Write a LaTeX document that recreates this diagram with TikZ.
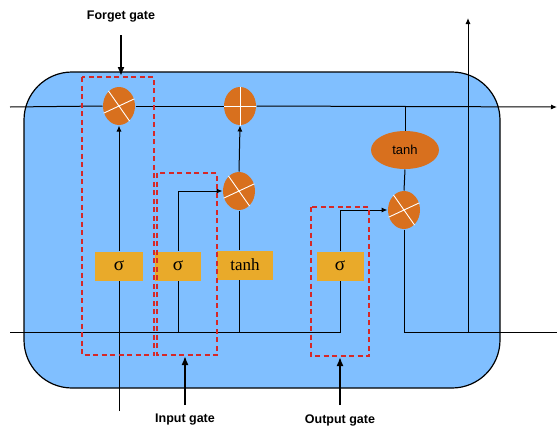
\documentclass[tikz,border=0pt]{standalone}
\usepackage{fontspec}
\setmainfont{Liberation Serif}
\newfontfamily\labelfont{Liberation Sans}
\usetikzlibrary{arrows,arrows.meta,shapes.geometric,positioning}
\definecolor{cellblue}{RGB}{128,191,255}
\definecolor{opOrange}{RGB}{216,112,30}
\definecolor{actYellow}{RGB}{233,170,42}
\definecolor{gateRed}{RGB}{214,40,40}
\newcommand{\opcross}[1]{\draw[white,line width=0.9pt] (#1.205) -- (#1.25) (#1.125) -- (#1.-55);}
\tikzset{
  op/.style={ellipse,fill=opOrange,minimum width=32pt,minimum height=38pt,inner sep=0pt},
  act/.style={rectangle,fill=actYellow,minimum height=29pt,inner sep=0pt},
  gatebox/.style={draw=gateRed,line width=1.4pt,dash pattern=on 5pt off 3.5pt},
  gatearrow/.style={-{Latex[length=9pt,width=7pt]},line width=1.7pt},
  gatelabel/.style={font=\labelfont\bfseries\fontsize{12.5}{14}\selectfont}
}

\begin{document}
\begin{tikzpicture}[x=1pt,y=-1pt,>={Latex[length=6pt,width=5pt]},line width=1pt]
  \useasboundingbox (0,0) rectangle (558,429);
  \draw[fill=cellblue,line width=1.2pt,rounded corners=48pt] (24,72) rectangle (500,388); %Cell body

  % line ends
  \coordinate (cin)  at (10,107);
  \coordinate (cout) at (557,107);
  \coordinate (hin)  at (10,332);
  \coordinate (hend) at (557,332);
  \coordinate (xin)  at (119,411);
  \coordinate (hsplit) at (468,332);
  \coordinate (htop) at (468,18);

  % pointwise operations
  \node[op] (fx) at (119,106) {};  %Forget multiply
  \node[op] (px) at (240,106) {};  %Cell update
  \node[op] (ix) at (239,191) {};  %Input multiply
  \node[op] (ox) at (404,210) {};  %Output multiply
  \node[op,minimum width=68pt,font=\labelfont\fontsize{13}{13}\selectfont] (th) at (405,150) {tanh};
  \opcross{fx}
  \opcross{ix}
  \opcross{ox}
  \draw[white,line width=0.9pt] (px.north) -- (px.south) (px.west) -- (px.east);

  % layers
  \node[act,minimum width=48pt,font=\fontsize{19}{19}\selectfont] (sf) at (119,266) {σ};
  \node[act,minimum width=46pt,font=\fontsize{19}{19}\selectfont] (si) at (178,266) {σ};
  \node[act,minimum width=56pt,font=\fontsize{17}{17}\selectfont] (tc) at (245,265) {tanh};
  \node[act,minimum width=47pt,font=\fontsize{19}{19}\selectfont] (so) at (340,266) {σ};

  % cell state
  \draw (cin) -- (fx.west);
  \draw (fx.east) -- (px.west);
  \draw[->] (px.east) -- (cout);

  % hidden state and input
  \draw (hin) -| (so.south);
  \draw (xin) -- (sf.south);
  \draw[->] (sf.north) -- (fx.south);
  \draw (si.south) -- (si.south |- hin);
  \draw[->] (si.north) |- (ix.west);
  \draw (ix |- tc.south) -- (ix |- hin);
  \draw (ix |- tc.north) -- (ix.south);
  \draw[->] (ix.north) -- (px.south);
  \draw[->] (so.north) |- (ox.west);
  \draw (th.north) -- (th.north |- cin);
  \draw (th.south) -- (ox.north);
  \draw (ox.south) |- (hend);
  \draw[->] (hsplit) -- (htop);

  % gates
  \draw[gatebox] (82,77) rectangle (154,355);   %Forget gate box
  \draw[gatebox] (157,173) rectangle (217,355); %Input gate box
  \draw[gatebox] (311,207) rectangle (369,356); %Output gate box

  \node[gatelabel] (flabel) at (121,17) {Forget gate};
  \node[gatelabel] (ilabel) at (185,420) {Input gate};
  \node[gatelabel] (olabel) at (340,420) {Output gate};
  \coordinate (ftail) at (121,35);  \coordinate (ftip) at (121,76);
  \coordinate (itail) at (185,405); \coordinate (itip) at (185,356);
  \coordinate (otail) at (340,405); \coordinate (otip) at (340,357);
  \draw[gatearrow] (ftail) -- (ftip);
  \draw[gatearrow] (itail) -- (itip);
  \draw[gatearrow] (otail) -- (otip);
\end{tikzpicture}
\end{document}
